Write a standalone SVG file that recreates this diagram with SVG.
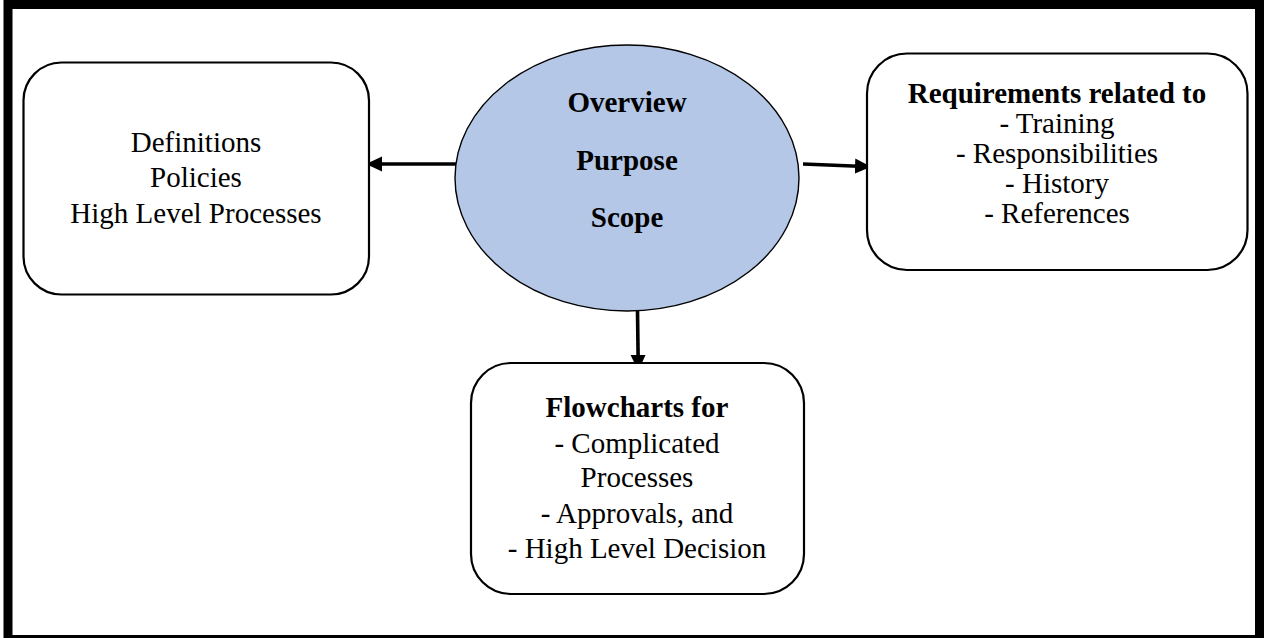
<svg xmlns="http://www.w3.org/2000/svg" width="1264" height="638" viewBox="0 0 1264 638">
  <style>
    .box { fill: #ffffff; stroke: #000000; stroke-width: 2.2; }
    .hub { fill: #b4c7e7; stroke: #000000; stroke-width: 1.4; }
    .txt { font-family: "Liberation Serif", "Times New Roman", serif; font-size: 29px; fill: #000000; text-anchor: middle; }
    .b { font-weight: bold; }
    .conn { stroke: #000000; stroke-width: 3.6; fill: none; }
  </style>
  <defs>
    <marker id="head" viewBox="0 0 16 16" refX="16" refY="8" markerWidth="16" markerHeight="16" orient="auto" markerUnits="userSpaceOnUse">
      <path d="M0,0.5 L16,8 L0,15.5 Z" fill="#000000"/>
    </marker>
  </defs>

  <!-- page frame -->
  <rect x="8" y="4.5" width="1251.5" height="635" fill="#ffffff" stroke="#000000" stroke-width="9"/>

  <!-- connectors -->
  <g id="connectors">
    <line class="conn" x1="456" y1="164" x2="366" y2="164" marker-end="url(#head)"/>
    <line class="conn" x1="803" y1="164" x2="871" y2="166.7" marker-end="url(#head)"/>
    <line class="conn" x1="637.5" y1="311" x2="638.3" y2="371" marker-end="url(#head)"/>
  </g>

  <!-- centre ellipse -->
  <g id="node-overview">
    <ellipse class="hub" cx="627" cy="178" rx="172" ry="133"/>
    <text class="txt b" x="627" y="112">Overview</text>
    <text class="txt b" x="627" y="170">Purpose</text>
    <text class="txt b" x="627" y="227">Scope</text>
  </g>

  <!-- left box -->
  <g id="node-definitions">
    <rect class="box" x="23.5" y="62.5" width="345.5" height="232" rx="38" ry="38"/>
    <text class="txt" x="196" y="152">Definitions</text>
    <text class="txt" x="196" y="187">Policies</text>
    <text class="txt" x="196" y="223">High Level Processes</text>
  </g>

  <!-- right box -->
  <g id="node-requirements">
    <rect class="box" x="867" y="53.5" width="380.5" height="216.5" rx="40" ry="40"/>
    <text class="txt b" x="1057" y="103">Requirements related to</text>
    <text class="txt" x="1057" y="133">- Training</text>
    <text class="txt" x="1057" y="163">- Responsibilities</text>
    <text class="txt" x="1057" y="193">- History</text>
    <text class="txt" x="1057" y="223">- References</text>
  </g>

  <!-- bottom box -->
  <g id="node-flowcharts">
    <rect class="box" x="471" y="363" width="333" height="231" rx="40" ry="40"/>
    <text class="txt b" x="637" y="417">Flowcharts for</text>
    <text class="txt" x="637" y="453">- Complicated</text>
    <text class="txt" x="637" y="487">Processes</text>
    <text class="txt" x="637" y="523">- Approvals, and</text>
    <text class="txt" x="637" y="558">- High Level Decision</text>
  </g>
</svg>
